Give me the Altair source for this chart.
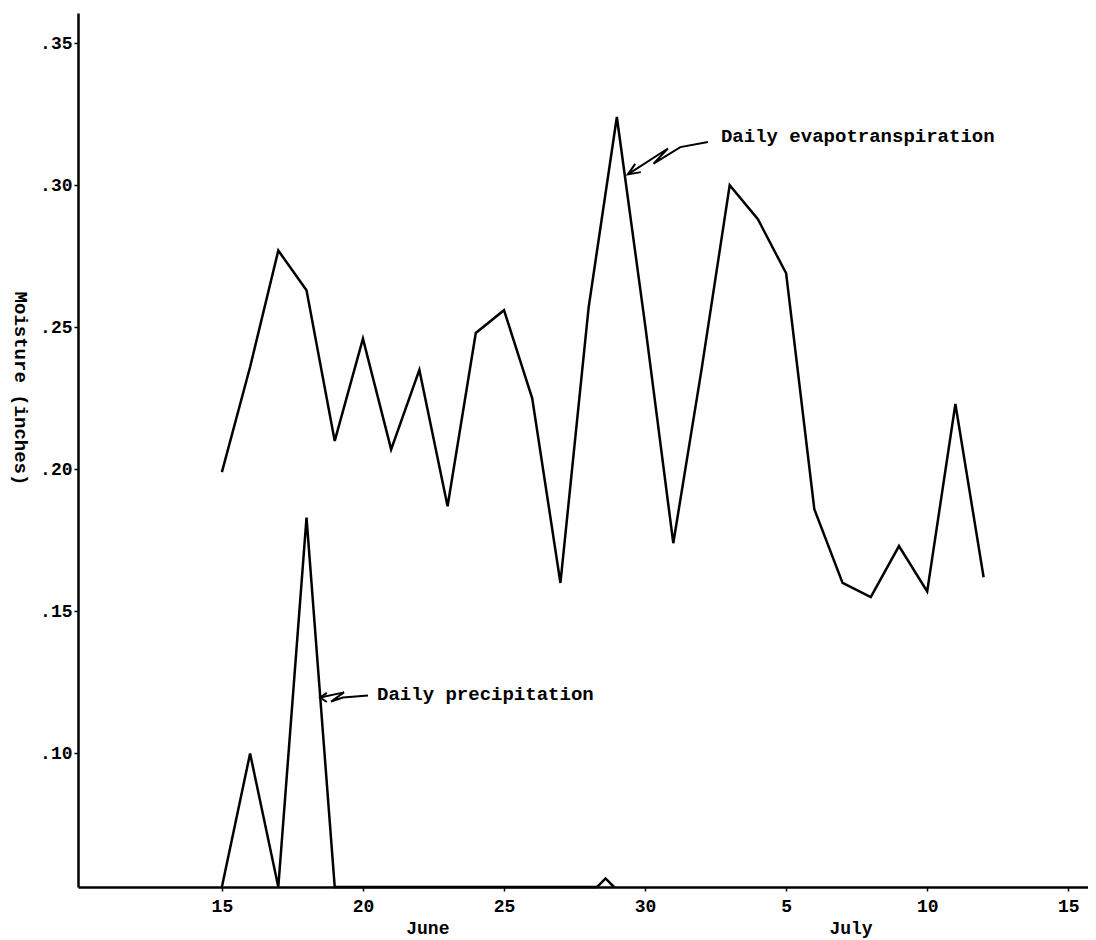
import altair as alt
import pandas as pd

# Days counted from June 1 (July 5 = day 35)
et_days = list(range(15, 43))
et_values = [0.199, 0.236, 0.277, 0.263, 0.210, 0.246, 0.207, 0.235, 0.187, 0.248,
             0.256, 0.225, 0.160, 0.257, 0.324, 0.251, 0.174, 0.235, 0.300, 0.288,
             0.269, 0.186, 0.160, 0.155, 0.173, 0.157, 0.223, 0.162]

y_min = 0.053   # value at the x-axis line
y_max = 0.3606
x_min = 9.9
x_max = 45.7

precip_days = [15, 16, 17, 18, 19, 28.3, 28.6, 28.9]
precip_values = [y_min, 0.100, y_min, 0.183, y_min, y_min, 0.056, y_min]

x_ticks = [15, 20, 25, 30, 35, 40, 45]
y_ticks = [0.10, 0.15, 0.20, 0.25, 0.30, 0.35]
month_names = ["June", "July"]
month_days = [22.3, 37.3]

# annotation arrows (day, value)
evap_arrow_days = [32.23, 31.25, 30.30, 30.81, 29.39]
evap_arrow_vals = [0.3152, 0.3134, 0.3076, 0.3129, 0.3038]
evap_head_days = [29.85, 29.39, 29.65]
evap_head_vals = [0.3046, 0.3038, 0.3075]
prec_arrow_days = [20.18, 19.29, 18.87, 19.33, 18.48]
prec_arrow_vals = [0.1204, 0.1197, 0.1183, 0.1215, 0.1197]
prec_head_days = [18.72, 18.48, 18.72]
prec_head_vals = [0.1213, 0.1197, 0.1181]

label_texts = ["Daily evapotranspiration", "Daily precipitation"]
label_days = [32.69, 20.50]
label_vals = [0.3173, 0.1211]

W, H = 1010, 874
FONT = "Liberation Mono"

et_df = pd.DataFrame({"day": et_days, "v": et_values})
pr_df = pd.DataFrame({"day": precip_days, "v": precip_values})

rows = []
for g, (ds, vs) in enumerate([(evap_arrow_days, evap_arrow_vals), (evap_head_days, evap_head_vals),
                              (prec_arrow_days, prec_arrow_vals), (prec_head_days, prec_head_vals)]):
    for i, (d, v) in enumerate(zip(ds, vs)):
        rows.append({"day": d, "v": v, "g": g, "o": i})
arrow_df = pd.DataFrame(rows)
label_df = pd.DataFrame({"day": label_days, "v": label_vals, "t": label_texts})
month_df = pd.DataFrame({"day": month_days, "t": month_names})

xscale = alt.Scale(domain=[x_min, x_max], nice=False, zero=False)
yscale = alt.Scale(domain=[y_min, y_max], nice=False, zero=False)

xaxis = alt.Axis(values=x_ticks, labelExpr="datum.value > 31 ? datum.value - 30 : datum.value",
                 title=None, grid=False, domainWidth=2.5, domainColor="black",
                 tickSize=4, tickWidth=1.5, tickColor="black", labelPadding=6,
                 labelFont=FONT, labelFontSize=18, labelFontWeight="bold", labelColor="black")
yaxis = alt.Axis(values=y_ticks, labelExpr="slice(format(datum.value, '.2f'), 1)",
                 title="Moisture (inches)", titleAngle=90, titleX=-58, titleY=375,
                 titleAlign="center", titleBaseline="middle",
                 titleFont=FONT, titleFontSize=19, titleFontWeight="bold", titleColor="black",
                 grid=False, domainWidth=2.5, domainColor="black",
                 tickSize=4, tickWidth=1.5, tickColor="black", labelPadding=2,
                 labelFont=FONT, labelFontSize=18, labelFontWeight="bold", labelColor="black")

et_line = alt.Chart(et_df).mark_line(color="black", strokeWidth=2.5).encode(
    x=alt.X("day:Q", scale=xscale, axis=xaxis),
    y=alt.Y("v:Q", scale=yscale, axis=yaxis),
)
pr_line = alt.Chart(pr_df).mark_line(color="black", strokeWidth=2.5).encode(
    x=alt.X("day:Q", scale=xscale), y=alt.Y("v:Q", scale=yscale)
)
arrows = alt.Chart(arrow_df).mark_line(color="black", strokeWidth=2).encode(
    x=alt.X("day:Q", scale=xscale), y=alt.Y("v:Q", scale=yscale),
    detail="g:N", order="o:Q"
)
labels = alt.Chart(label_df).mark_text(align="left", baseline="middle", font=FONT,
                                       fontSize=19, fontWeight="bold", color="black").encode(
    x=alt.X("day:Q", scale=xscale), y=alt.Y("v:Q", scale=yscale), text="t:N"
)
months = alt.Chart(month_df).mark_text(align="center", baseline="middle", font=FONT,
                                       fontSize=18, fontWeight="bold", color="black").encode(
    x=alt.X("day:Q", scale=xscale), y=alt.value(H + 42), text="t:N"
)

chart = alt.layer(et_line, pr_line, arrows, labels, months).properties(
    width=W, height=H,
    autosize=alt.AutoSizeParams(type="none"),
    padding={"left": 70, "top": 5, "right": 0, "bottom": 56},
    background="white",
).configure_view(stroke=None)

chart.save("out.html", embed_options={"renderer": "svg", "actions": False})
